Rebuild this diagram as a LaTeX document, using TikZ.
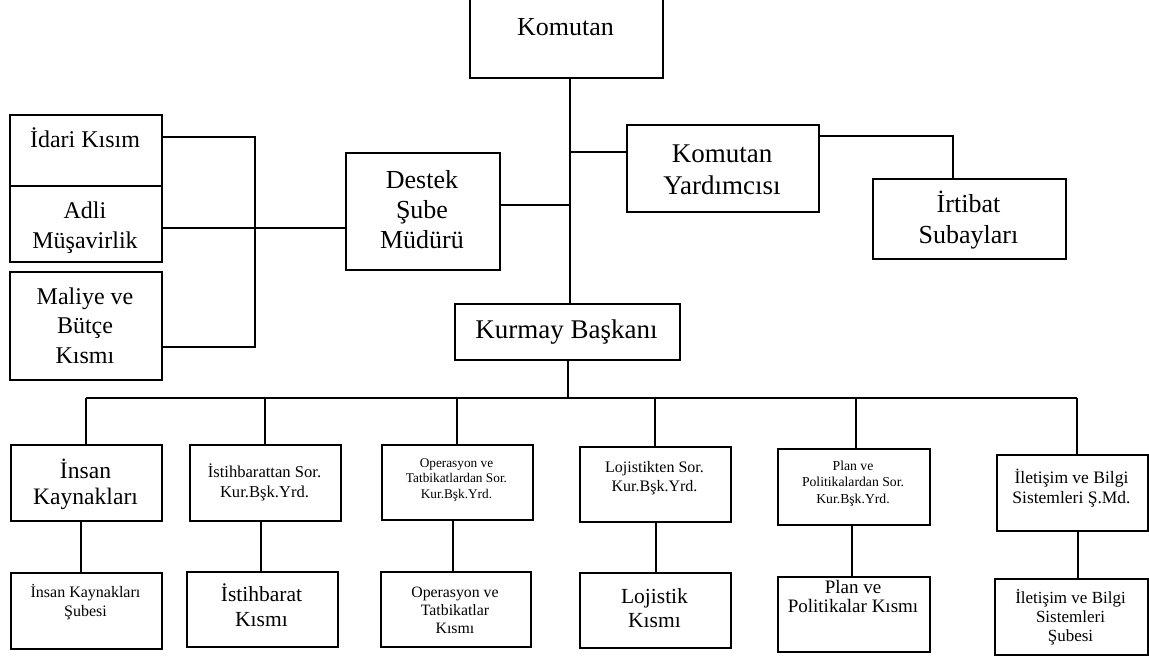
\documentclass[tikz,border=0pt]{standalone}
\usepackage{fontspec}
\setmainfont{Liberation Serif}
\begin{document}
\begin{tikzpicture}[x=1pt,y=-1pt,
  box/.style={draw, line width=1.5pt, inner sep=0pt, anchor=north west},
  txt/.style={anchor=base, align=center, inner sep=0pt},
  conn/.style={line width=1.5pt}]
\useasboundingbox (0,0) rectangle (1149,657);
% boxes
\node[box, minimum width=193pt, minimum height=80pt] (kom) at (469,-3) {};
\node[box, minimum width=192pt, minimum height=87pt] (yrd) at (626,124) {};
\node[box, minimum width=193pt, minimum height=80pt] (irt) at (872,178) {};
\node[box, minimum width=154pt, minimum height=117pt] (dst) at (345,152) {};
\node[box, minimum width=152pt, minimum height=71pt] (idr) at (9,114) {};
\node[box, minimum width=152pt, minimum height=76pt] (adl) at (9,185) {};
\node[box, minimum width=152pt, minimum height=108pt] (mal) at (9,271) {};
\node[box, minimum width=225pt, minimum height=56pt] (krm) at (454,303) {};
\node[box, minimum width=151pt, minimum height=76pt] (ik) at (10,444) {};
\node[box, minimum width=151pt, minimum height=76pt] (ist) at (189,444) {};
\node[box, minimum width=151pt, minimum height=75pt] (ops) at (381,444) {};
\node[box, minimum width=151pt, minimum height=75pt] (loj) at (579,446) {};
\node[box, minimum width=152pt, minimum height=76pt] (pln) at (777,448) {};
\node[box, minimum width=151pt, minimum height=76pt] (ilt) at (996,454) {};
\node[box, minimum width=151pt, minimum height=76pt] (iks) at (10,572) {};
\node[box, minimum width=151pt, minimum height=75pt] (isk) at (186,571) {};
\node[box, minimum width=150pt, minimum height=75pt] (opk) at (380,571) {};
\node[box, minimum width=151pt, minimum height=75pt] (ljk) at (579,572) {};
\node[box, minimum width=152pt, minimum height=75pt] (plk) at (777,576) {};
\node[box, minimum width=153pt, minimum height=76pt] (ilk) at (994,578) {};
% texts
\node[txt, font=\fontsize{26}{30}\selectfont] (komT) at (565.5,35) {Komutan};
\node[txt, font=\fontsize{27}{32}\selectfont] (yrdT) at (722,194) {Komutan\\Yardımcısı};
\node[txt, font=\fontsize{26}{31}\selectfont] (irtT) at (968.5,243) {İrtibat\\Subayları};
\node[txt, font=\fontsize{26}{30}\selectfont] (dstT) at (422,248) {Destek\\Şube\\Müdürü};
\node[txt, font=\fontsize{24}{30}\selectfont] (idrT) at (85,147) {İdari Kısım};
\node[txt, font=\fontsize{24}{30}\selectfont] (adlT) at (85,248) {Adli\\Müşavirlik};
\node[txt, font=\fontsize{24}{29.5}\selectfont] (malT) at (85,363) {Maliye ve\\Bütçe\\Kısmı};
\node[txt, font=\fontsize{27}{32}\selectfont] (krmT) at (566.5,338) {Kurmay Başkanı};
\node[txt, font=\fontsize{23.6}{26}\selectfont] (ikT) at (85.5,504) {İnsan\\Kaynakları};
\node[txt, font=\fontsize{16.6}{20}\selectfont] (istT) at (264.5,497) {İstihbarattan Sor.\\Kur.Bşk.Yrd.};
\node[txt, font=\fontsize{13.3}{15.5}\selectfont] (opsT) at (456.5,498) {Operasyon ve\\Tatbikatlardan Sor.\\Kur.Bşk.Yrd.};
\node[txt, font=\fontsize{16}{19}\selectfont] (lojT) at (654.5,491) {Lojistikten Sor.\\Kur.Bşk.Yrd.};
\node[txt, font=\fontsize{13.7}{16.5}\selectfont] (plnT) at (853,503) {Plan ve\\Politikalardan Sor.\\Kur.Bşk.Yrd.};
\node[txt, font=\fontsize{17.5}{20}\selectfont] (iltT) at (1071.5,503) {İletişim ve Bilgi\\Sistemleri Ş.Md.};
\node[txt, font=\fontsize{16}{19}\selectfont] (iksT) at (85.5,616) {İnsan Kaynakları\\Şubesi};
\node[txt, font=\fontsize{21.5}{24.5}\selectfont] (iskT) at (261.5,626) {İstihbarat\\Kısmı};
\node[txt, font=\fontsize{15.8}{18}\selectfont] (opkT) at (455,633) {Operasyon ve\\Tatbikatlar\\Kısmı};
\node[txt, font=\fontsize{21.5}{24}\selectfont] (ljkT) at (654.5,627) {Lojistik\\Kısmı};
\node[txt, font=\fontsize{19}{19}\selectfont] (plkT) at (853,612) {Plan ve\\Politikalar Kısmı};
\node[txt, font=\fontsize{17}{19}\selectfont] (ilkT) at (1070.5,641) {İletişim ve Bilgi\\Sistemleri\\Şubesi};
% junction coordinates
\coordinate (sp) at (570,0);
\coordinate (jy) at (570,152);
\coordinate (jd) at (570,205);
\coordinate (ji) at (953,136);
\coordinate (lt) at (255,137);
\coordinate (la) at (255,228);
\coordinate (lb) at (255,347);
\coordinate (busL) at (86,398);
\coordinate (busR) at (1077,398);
% connectors
\draw[conn] (kom.south -| sp) -- (krm.north -| sp);
\draw[conn] (yrd.west |- jy) -- (jy);
\draw[conn] (dst.east |- jd) -- (jd);
\draw[conn] (yrd.east |- ji) -- (ji) -- (ji |- irt.north);
\draw[conn] (idr.east |- lt) -- (lt) -- (lb) -- (mal.east |- lb);
\draw[conn] (adl.east |- la) -- (dst.west |- la);
\draw[conn] ([xshift=0.5pt]krm.south) -- ([xshift=0.5pt]krm.south |- busL);
\draw[conn] (busL) -- (busR);
\draw[conn] (busL) -- (ik.north -| busL);
\draw[conn] ([xshift=-0.5pt]ist.north |- busL) -- ([xshift=-0.5pt]ist.north);
\draw[conn] ([xshift=-0.5pt]ops.north |- busL) -- ([xshift=-0.5pt]ops.north);
\draw[conn] ([xshift=-0.5pt]loj.north |- busL) -- ([xshift=-0.5pt]loj.north);
\draw[conn] ([xshift=2pt]pln.north |- busL) -- ([xshift=2pt]pln.north);
\draw[conn] (busR) -- (ilt.north -| busR);
\draw[conn] ([xshift=-5.5pt]ik.south) -- ([xshift=-5.5pt]ik.south |- iks.north);
\draw[conn] ([xshift=-4.5pt]ist.south) -- ([xshift=-4.5pt]ist.south |- isk.north);
\draw[conn] ([xshift=-4.5pt]ops.south) -- ([xshift=-4.5pt]ops.south |- opk.north);
\draw[conn] ([xshift=0.5pt]loj.south) -- ([xshift=0.5pt]loj.south |- ljk.north);
\draw[conn] ([xshift=-2pt]pln.south) -- ([xshift=-2pt]pln.south |- plk.north);
\draw[conn] ([xshift=5.5pt]ilt.south) -- ([xshift=5.5pt]ilt.south |- ilk.north);
\end{tikzpicture}
\end{document}
